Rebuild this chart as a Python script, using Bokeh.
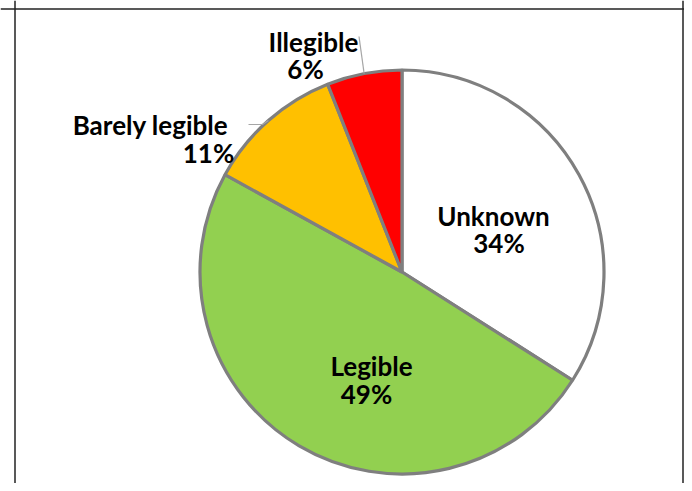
import math
from bokeh.plotting import figure
from bokeh.models import Range1d, Span, ColumnDataSource
from bokeh.core.properties import value
from bokeh.embed import file_html
from bokeh.resources import INLINE

# ---- data ----
categories = ["Unknown", "Legible", "Barely legible", "Illegible"]
percents = [34, 49, 11, 6]
pct_labels = ["34%", "49%", "11%", "6%"]
colors = ["#FFFFFF", "#92D050", "#FFC000", "#FF0000"]

# ---- layout (figure pixels) ----
W, H = 684, 483
CX, CY, R = 401.5, 271.5, 202.0   # pie centre / radius in pixels


def sx(x):
    return (x - CX) / R


def sy(y):
    return (CY - y) / R


p = figure(width=W, height=H, output_backend="svg", toolbar_location=None,
           x_range=Range1d(sx(0), sx(W)), y_range=Range1d(sy(H), sy(0)),
           min_border=0, outline_line_color=None, background_fill_color="white",
           border_fill_color="white")
p.axis.visible = False
p.grid.visible = False

# chart frame
for loc in (sx(14.5), sx(682.5)):
    p.add_layout(Span(location=loc, dimension="height", line_color="#222222", line_width=1.5))
p.add_layout(Span(location=sy(8.5), dimension="width", line_color="#222222", line_width=1.5))

# wedges, clockwise from 12 o'clock
total = float(sum(percents))
starts, ends, mids = [], [], []
cum = 0.0
for v in percents:
    a0 = math.pi / 2 - 2 * math.pi * cum / total
    cum += v
    a1 = math.pi / 2 - 2 * math.pi * cum / total
    starts.append(a0)
    ends.append(a1)
    mids.append((a0 + a1) / 2)

src = ColumnDataSource(dict(start=starts, end=ends, color=colors, cat=categories))
p.wedge(x=0, y=0, radius=1.0, start_angle="start", end_angle="end", direction="clock",
        fill_color="color", line_color="#7F7F7F", line_width=3.2, source=src)

# leader lines for outside labels (Barely legible, Illegible)
m = mids[2]
ex, ey = math.cos(m), math.sin(m)
p.line(x=[ex, sx(262), sx(248)], y=[ey, sy(124), sy(124)], line_color="#A6A6A6", line_width=1.2)
m = mids[3]
ex, ey = math.cos(m), math.sin(m)
p.line(x=[ex, sx(358.5)], y=[ey, sy(36)], line_color="#A6A6A6", line_width=1.2)

# labels (pixel positions of text centres)
name_pos = [(493, 215), (371, 365), (150, 124), (313, 41)]
pct_pos = [(498.5, 242.5), (366, 393), (208, 152), (305, 68)]

font = value("Lato")
p.text(x=[sx(a) for a, b in name_pos], y=[sy(b) for a, b in name_pos], text=categories,
       text_font=font, text_font_style="bold", text_font_size="26px",
       text_align="center", text_baseline="middle", text_color="black")
p.text(x=[sx(a) for a, b in pct_pos], y=[sy(b) for a, b in pct_pos], text=pct_labels,
       text_font=font, text_font_style="bold", text_font_size="26px",
       text_align="center", text_baseline="middle", text_color="black")

open("out.html", "w").write(file_html(p, INLINE))
